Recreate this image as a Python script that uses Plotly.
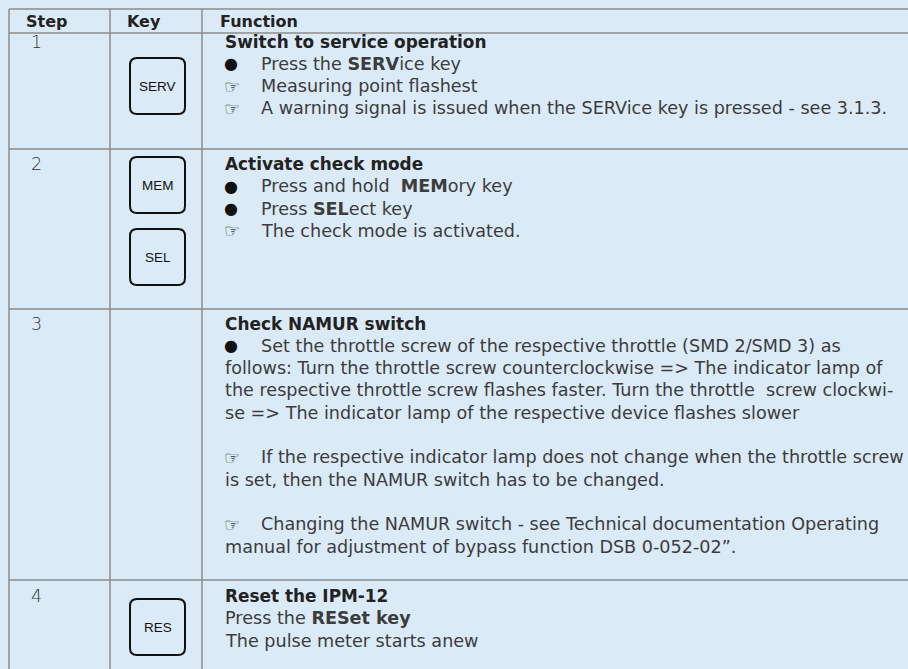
import plotly.graph_objects as go

# ---------------- data (table content) ----------------
header_labels = ["Step", "Key", "Function"]
steps = ["1", "2", "3", "4"]
key_labels = [["SERV"], ["MEM", "SEL"], [], ["RES"]]
titles = [
    "Switch to service operation",
    "Activate check mode",
    "Check NAMUR switch",
    "Reset the IPM-12",
]
# each entry: (marker, text); None = blank line
row1_lines = [
    ("●", "Press the <b>SERV</b>ice key"),
    ("☞", "Measuring point flashest"),
    ("☞", "A warning signal is issued when the SERVice key is pressed - see 3.1.3."),
]
row2_lines = [
    ("●", "Press and hold  <b>MEM</b>ory key"),
    ("●", "Press <b>SEL</b>ect key"),
    ("☞", "The check mode is activated."),
]
row3_lines = [
    ("●", "Set the throttle screw of the respective throttle (SMD 2/SMD 3) as"),
    ("", "follows: Turn the throttle screw counterclockwise => The indicator lamp of"),
    ("", "the respective throttle screw flashes faster. Turn the throttle  screw clockwi-"),
    ("", "se => The indicator lamp of the respective device flashes slower"),
    None,
    ("☞", "If the respective indicator lamp does not change when the throttle screw"),
    ("", "is set, then the NAMUR switch has to be changed."),
    None,
    ("☞", "Changing the NAMUR switch - see Technical documentation Operating"),
    ("", "manual for adjustment of bypass function DSB 0-052-02”."),
]
row4_lines = [
    ("", "Press the <b>RESet key</b>"),
    ("", "The pulse meter starts anew"),
]
row_lines = [row1_lines, row2_lines, row3_lines, row4_lines]

# ---------------- layout constants ----------------
W, H = 908, 669
BG = "#dbeaf7"
GRID = "#8c8c8c"
TXT = "#3c3c3c"
FONT = "DejaVu Sans"
FS = 17.6          # body text
FS_TITLE = 16.9    # bold row titles
FS_HEAD = 16.0     # header
col_x = [9, 110, 202]
header_x = [24, 125, 218]
table_top = 9
header_bottom = 33
row_bottoms = [149, 309, 580]
title_y = [41.5, 164, 323.5, 596]
line_step = 22.3
key_box_tops = [[58], [157, 229], [], [599]]
key_box_x = (130, 185)
key_box_h = 56
step_x = 29
func_x = 223
text_x = 259

fig = go.Figure()
shapes = []
ann = []

def hline(y):
    shapes.append(dict(type="line", xref="x", yref="y", x0=col_x[0], x1=W, y0=y, y1=y,
                       line=dict(color=GRID, width=1.5)))

def vline(x):
    shapes.append(dict(type="line", xref="x", yref="y", x0=x, x1=x, y0=table_top, y1=H,
                       line=dict(color=GRID, width=1.5)))

hline(table_top)
hline(header_bottom)
for yb in row_bottoms:
    hline(yb)
for x in col_x:
    vline(x)

def rounded_rect(x0, y0, x1, y1, r):
    return (f"M {x0+r},{y0} L {x1-r},{y0} Q {x1},{y0} {x1},{y0+r} "
            f"L {x1},{y1-r} Q {x1},{y1} {x1-r},{y1} L {x0+r},{y1} "
            f"Q {x0},{y1} {x0},{y1-r} L {x0},{y0+r} Q {x0},{y0} {x0+r},{y0} Z")

def add_text(x, y, text, size=FS, color=TXT, bold=False, family=FONT, xanchor="left", weight=None):
    f = dict(family=family, size=size, color=color)
    if weight:
        f["weight"] = weight
    ann.append(dict(x=x, y=y, xref="x", yref="y", text=(f"<b>{text}</b>" if bold else text),
                    showarrow=False, xanchor=xanchor, yanchor="middle", font=f))

# header
for hx, lab in zip(header_x, header_labels):
    add_text(hx, 21.5, lab, bold=True, size=FS_HEAD, color="#222")

# rows
for i in range(4):
    add_text(step_x, title_y[i], steps[i], size=17.5, weight=200, color="#333")
    add_text(func_x, title_y[i], titles[i], size=FS_TITLE, bold=True, color="#222")
    for k, item in enumerate(row_lines[i]):
        if item is None:
            continue
        y = title_y[i] + line_step * (k + 1)
        marker, txt = item
        if marker:
            if marker == "●":
                add_text(func_x - 1, y, marker, size=16, color="#111", family="DejaVu Sans")
            else:
                add_text(func_x - 1, y, marker, size=18, color="#333", family="DejaVu Sans", weight=200)
            add_text(text_x, y, txt)
        else:
            add_text(func_x, y, txt)
    for top, lab in zip(key_box_tops[i], key_labels[i]):
        shapes.append(dict(type="path", xref="x", yref="y",
                           path=rounded_rect(key_box_x[0], top, key_box_x[1], top + key_box_h, 7),
                           line=dict(color="#111", width=2), fillcolor="rgba(0,0,0,0)"))
        add_text((key_box_x[0] + key_box_x[1]) / 2, top + key_box_h / 2, lab, size=13.5,
                 color="#111", family="Liberation Sans", xanchor="center")

fig.update_layout(
    width=W, height=H, margin=dict(l=0, r=0, t=0, b=0),
    paper_bgcolor=BG, plot_bgcolor=BG,
    xaxis=dict(range=[0, W], visible=False, fixedrange=True),
    yaxis=dict(range=[H, 0], visible=False, fixedrange=True),
    shapes=shapes, annotations=ann, showlegend=False,
)
fig.write_html("out.html", config={"displayModeBar": False},
               post_script="document.body.style.margin='0';")
